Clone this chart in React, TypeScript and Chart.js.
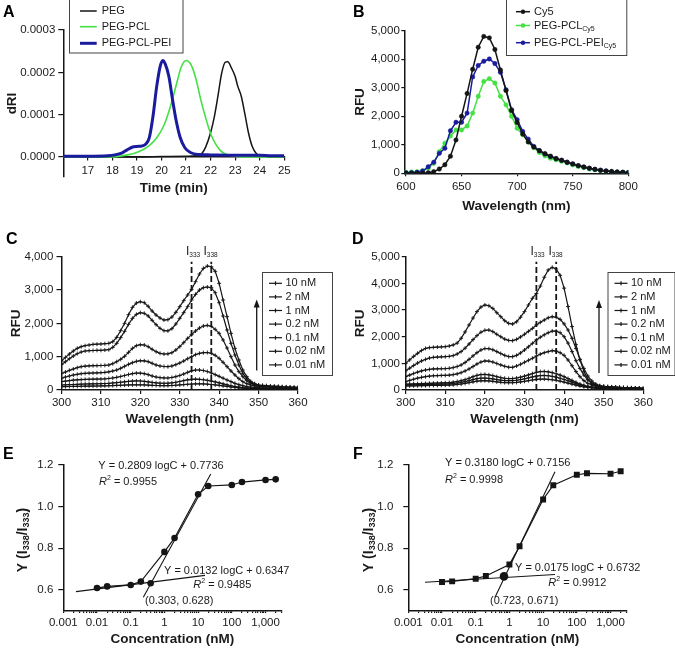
import React, { useEffect, useRef } from 'react';
import { Chart, registerables } from 'chart.js';
Chart.register(...registerables);

const FONT = '"Liberation Sans", Arial, Helvetica, sans-serif';
const INK = '#151515';
const TXT = '#1a1a1a';
const GREEN = '#44e044';
const BLUE = '#1b1b9e';

// ---------- Panel A (GPC traces) ----------
const aLegendLabels = ['PEG', 'PEG-PCL', 'PEG-PCL-PEI'];
const aPegTime = [16, 17, 18, 19, 20, 21, 21.4, 21.6, 21.8, 22.0, 22.15, 22.3, 22.45, 22.6, 22.7, 22.85, 23.0, 23.1, 23.25, 23.4, 23.55, 23.7, 23.85, 24.0, 24.2, 24.5, 25];
const aPegDRI = [0, 0, 0, 0, 0.000001, 0.000002, 0.000003, 0.000006, 0.000024, 0.000058, 0.000095, 0.000145, 0.000198, 0.000224, 0.000225, 0.00021, 0.00019, 0.000168, 0.000143, 0.0001, 0.000055, 0.000024, 0.000009, 0.000004, 0.000002, 0, 0];
const aPclTime = [16, 18, 18.3, 18.6, 18.9, 19.2, 19.5, 19.8, 20.1, 20.35, 20.6, 20.8, 21.0, 21.2, 21.4, 21.6, 21.8, 22.0, 22.2, 22.4, 22.6, 22.9, 23.2, 24, 25];
const aPclDRI = [0, 0, 0.000002, 0.000005, 0.000009, 0.000016, 0.000027, 0.000045, 0.000075, 0.000117, 0.00017, 0.000212, 0.000228, 0.000218, 0.000185, 0.000135, 0.000092, 0.000055, 0.000031, 0.000015, 0.000007, 0.000003, 0.000001, 0, 0];
const aPeiTime = [16, 17, 17.8, 18.1, 18.4, 18.6, 18.8, 19.0, 19.2, 19.35, 19.5, 19.65, 19.8, 19.95, 20.05, 20.15, 20.3, 20.45, 20.6, 20.75, 20.95, 21.2, 21.5, 22, 23, 24, 24.5, 25];
const aPeiDRI = [0.000002, 0.000002, 0.000003, 0.000005, 0.00001, 0.000017, 0.000023, 0.000025, 0.000026, 0.00003, 0.000045, 0.000095, 0.000165, 0.000215, 0.000228, 0.00022, 0.00019, 0.000135, 0.000085, 0.000048, 0.000022, 0.00001, 0.000006, 0.000005, 0.000004, 0.000004, 0.000003, 0.000003];
const aXTicks = [17, 18, 19, 20, 21, 22, 23, 24, 25];
const aYTicks = [0, 0.0001, 0.0002, 0.0003];
const aYTickLabels = ['0.0000', '0.0001', '0.0002', '0.0003'];

// ---------- Panel B (Cy5 emission) ----------
const bWavelength = [600, 605, 610, 615, 620, 625, 630, 635, 640, 645, 650, 655, 660, 665, 670, 675, 680, 685, 690, 695, 700, 705, 710, 715, 720, 725, 730, 735, 740, 745, 750, 755, 760, 765, 770, 775, 780, 785, 790, 795, 800];
const bCy5 = [0, 0, 0, 5, 20, 60, 150, 300, 600, 1170, 2000, 2800, 3650, 4420, 4800, 4750, 4340, 3620, 2900, 2200, 1780, 1380, 1100, 920, 790, 690, 600, 520, 455, 390, 330, 270, 220, 180, 140, 110, 85, 65, 45, 35, 25];
const bPegPcl = [35, 47, 59, 94, 176, 350, 760, 1055, 1310, 1520, 1520, 1660, 2110, 2700, 3220, 3320, 3165, 2700, 2400, 2000, 1580, 1350, 1110, 900, 730, 610, 530, 470, 420, 365, 295, 235, 200, 150, 120, 95, 70, 60, 45, 35, 30];
const bPegPclPei = [20, 25, 35, 80, 230, 390, 700, 880, 1490, 1790, 1790, 2110, 3380, 3780, 3930, 4010, 3850, 3540, 2930, 2230, 1880, 1470, 1200, 940, 800, 680, 590, 515, 460, 390, 330, 270, 220, 175, 140, 105, 80, 60, 45, 35, 25];
const bXTicks = [600, 650, 700, 750, 800];
const bYTicks = [0, 1000, 2000, 3000, 4000, 5000];
const bYTickLabels = ['0', '1,000', '2,000', '3,000', '4,000', '5,000'];

// ---------- Panels C & D (pyrene excitation spectra) ----------
const cdWavelength = [
  300, 301, 302, 303, 304, 305, 306, 307, 308, 309,
  310, 311, 312, 313, 314, 315, 316, 317, 318, 319,
  320, 321, 322, 323, 324, 325, 326, 327, 328, 329,
  330, 331, 332, 333, 334, 335, 336, 337, 338, 339,
  340, 341, 342, 343, 344, 345, 346, 347, 348, 349,
  350, 351, 352, 353, 354, 355, 356, 357, 358, 359, 360,
];
const cdConcLabels = ['10 nM', '2 nM', '1 nM', '0.2 nM', '0.1 nM', '0.02 nM', '0.01 nM'];
const cdXTicks = [300, 310, 320, 330, 340, 350, 360];

const c10nM = [
  870, 980, 1080, 1170, 1250, 1300, 1330, 1350, 1370, 1375,
  1380, 1390, 1400, 1450, 1580, 1780, 2000, 2260, 2480, 2610,
  2650, 2620, 2510, 2370, 2250, 2160, 2100, 2110, 2190, 2330,
  2500, 2680, 2850, 3020, 3250, 3480, 3650, 3720, 3700, 3560,
  3200, 2700, 2200, 1700, 1250, 900, 600, 400, 260, 190,
  150, 140, 130, 120, 115, 110, 100, 95, 90, 85, 80,
];
const c2nM = [
  760, 850, 940, 1020, 1090, 1140, 1170, 1180, 1185, 1190,
  1190, 1200, 1210, 1280, 1400, 1570, 1760, 1970, 2150, 2270,
  2320, 2300, 2220, 2090, 1960, 1850, 1780, 1775, 1840, 1980,
  2150, 2320, 2500, 2700, 2870, 3000, 3070, 3090, 3070, 2920,
  2620, 2220, 1800, 1400, 1050, 750, 500, 340, 230, 170,
  140, 125, 115, 105, 100, 95, 85, 80, 75, 70, 65,
];
const c1nM = [
  490, 540, 590, 630, 670, 700, 715, 725, 730, 732,
  735, 740, 750, 790, 850, 920, 1010, 1130, 1250, 1330,
  1360, 1350, 1300, 1220, 1150, 1100, 1080, 1085, 1120, 1200,
  1300, 1420, 1550, 1660, 1770, 1860, 1920, 1940, 1910, 1820,
  1700, 1500, 1260, 1000, 750, 550, 400, 280, 200, 160,
  130, 115, 105, 95, 90, 85, 75, 70, 65, 60, 55,
];
const c02nM = [
  350, 390, 420, 450, 470, 490, 500, 505, 510, 515,
  520, 530, 545, 570, 600, 650, 710, 770, 820, 860,
  880, 875, 850, 800, 750, 720, 705, 700, 720, 760,
  810, 870, 940, 1000, 1060, 1100, 1120, 1125, 1100, 1040,
  950, 830, 700, 570, 450, 340, 250, 190, 150, 125,
  110, 100, 90, 85, 80, 75, 70, 65, 60, 55, 50,
];
const c01nM = [
  250, 265, 280, 295, 305, 312, 318, 322, 325, 328,
  330, 335, 345, 360, 380, 405, 435, 465, 490, 505,
  505, 490, 460, 420, 390, 370, 362, 360, 375, 400,
  435, 480, 530, 575, 600, 600, 585, 555, 510, 460,
  410, 355, 300, 250, 200, 160, 130, 105, 90, 80,
  70, 65, 60, 55, 50, 48, 45, 42, 40, 38, 35,
];
const c002nM = [
  150, 155, 160, 165, 170, 175, 180, 182, 185, 188,
  190, 195, 200, 210, 220, 232, 245, 258, 268, 272,
  270, 260, 245, 228, 215, 207, 203, 205, 215, 232,
  255, 280, 305, 320, 325, 320, 308, 290, 268, 242,
  215, 185, 155, 128, 105, 88, 75, 65, 58, 52,
  48, 45, 42, 40, 38, 35, 33, 30, 28, 26, 25,
];
const c001nM = [
  100, 102, 105, 108, 110, 112, 115, 117, 118, 120,
  122, 125, 128, 133, 138, 143, 148, 152, 155, 157,
  156, 152, 146, 140, 135, 131, 129, 130, 135, 143,
  152, 162, 172, 180, 184, 185, 182, 175, 165, 152,
  138, 122, 106, 90, 76, 64, 54, 46, 40, 36,
  33, 30, 28, 26, 24, 22, 20, 19, 18, 17, 16,
];
const cYTicks = [0, 1000, 2000, 3000, 4000];
const cYTickLabels = ['0', '1,000', '2,000', '3,000', '4,000'];

const d10nM = [
  1000, 1130, 1260, 1375, 1480, 1560, 1590, 1600, 1610, 1615,
  1625, 1650, 1690, 1760, 1940, 2180, 2440, 2700, 2940, 3110,
  3190, 3160, 3060, 2900, 2750, 2600, 2500, 2475, 2560, 2730,
  2940, 3190, 3440, 3620, 3900, 4230, 4500, 4600, 4540, 4300,
  3820, 3130, 2380, 1700, 1130, 700, 400, 240, 160, 135,
  125, 118, 110, 102, 96, 90, 84, 78, 73, 69, 65,
];
const d2nM = [
  720, 820, 920, 1010, 1090, 1150, 1200, 1225, 1235, 1245,
  1250, 1265, 1290, 1350, 1440, 1570, 1725, 1890, 2040, 2170,
  2240, 2250, 2190, 2090, 2000, 1910, 1860, 1850, 1900, 1990,
  2090, 2200, 2310, 2440, 2540, 2625, 2710, 2750, 2730, 2650,
  2480, 2250, 1940, 1560, 1150, 810, 525, 340, 225, 165,
  140, 125, 115, 105, 98, 92, 86, 80, 75, 70, 65,
];
const d1nM = [
  500, 560, 620, 670, 715, 750, 775, 790, 795, 798,
  800, 815, 840, 880, 940, 1030, 1150, 1280, 1400, 1500,
  1555, 1550, 1510, 1440, 1370, 1300, 1255, 1250, 1300, 1390,
  1500, 1620, 1750, 1880, 1980, 2070, 2150, 2210, 2210, 2150,
  2000, 1760, 1440, 1100, 810, 560, 380, 260, 190, 150,
  125, 112, 102, 95, 88, 82, 76, 70, 65, 60, 55,
];
const d02nM = [
  310, 360, 405, 445, 475, 500, 520, 535, 540, 545,
  550, 560, 575, 605, 650, 715, 790, 880, 975, 1050,
  1090, 1085, 1050, 995, 940, 890, 855, 850, 900, 965,
  1040, 1115, 1190, 1275, 1345, 1400, 1440, 1475, 1460, 1400,
  1300, 1125, 910, 690, 500, 350, 250, 190, 150, 125,
  110, 100, 92, 86, 80, 75, 70, 65, 60, 56, 52,
];
const d01nM = [
  220, 225, 230, 235, 240, 245, 250, 255, 260, 265,
  270, 280, 295, 320, 350, 390, 440, 500, 550, 580,
  585, 570, 540, 500, 465, 440, 430, 430, 450, 480,
  520, 565, 615, 660, 690, 695, 680, 650, 610, 560,
  500, 430, 360, 290, 225, 175, 140, 115, 100, 90,
  82, 76, 72, 68, 64, 60, 57, 54, 51, 48, 45,
];
const d002nM = [
  190, 193, 196, 200, 203, 206, 210, 213, 216, 220,
  225, 232, 245, 262, 285, 315, 350, 390, 425, 445,
  448, 438, 418, 392, 370, 355, 348, 350, 365, 390,
  420, 455, 490, 520, 540, 545, 535, 512, 480, 440,
  395, 345, 295, 240, 190, 150, 120, 100, 86, 76,
  70, 65, 61, 57, 54, 51, 48, 45, 43, 41, 39,
];
const d001nM = [
  150, 153, 156, 159, 162, 165, 168, 171, 174, 177,
  180, 186, 195, 208, 225, 248, 275, 305, 330, 345,
  348, 340, 325, 305, 288, 277, 272, 274, 285, 302,
  325, 350, 375, 395, 408, 410, 402, 385, 360, 330,
  295, 258, 220, 182, 148, 120, 98, 82, 70, 62,
  56, 52, 49, 46, 43, 40, 38, 36, 34, 32, 30,
];
const dYTicks = [0, 1000, 2000, 3000, 4000, 5000];
const dYTickLabels = ['0', '1,000', '2,000', '3,000', '4,000', '5,000'];
const cdMarkers = [333, 338];

// ---------- Panels E & F (I338/I333 vs concentration) ----------
const efConc = [0.01, 0.02, 0.1, 0.2, 1, 2, 10, 20, 100, 200, 1000, 2000];
const eRatio = [0.608, 0.616, 0.623, 0.639, 0.782, 0.849, 1.059, 1.099, 1.104, 1.118, 1.128, 1.131];
const fRatio = [0.637, 0.640, 0.653, 0.666, 0.721, 0.809, 1.034, 1.103, 1.153, 1.160, 1.158, 1.170];
const eSteepX = [0.237, 23.7];
const eSteepY = [0.564, 1.157];
const eFlatX = [0.00238, 16];
const eFlatY = [0.591, 0.669];
const eCross = { x: 0.39, y: 0.631 };
const fSteepX = [0.374, 22.5];
const fSteepY = [0.564, 1.168];
const fFlatX = [0.00312, 22.5];
const fFlatY = [0.636, 0.673];
const fCross = { x: 0.69, y: 0.664 };
const efDecades = [0.001, 0.01, 0.1, 1, 10, 100, 1000];
const efDecadeLabels = ['0.001', '0.01', '0.1', '1', '10', '100', '1,000'];
const efXMax = 3000;
const efYTicks = [0.6, 0.8, 1.0, 1.2];
const efYTickLabels = ['0.6', '0.8', '1.0', '1.2'];

// ---------- helpers ----------
const zip = (xs: number[], ys: number[]) => xs.map((x, i) => ({ x, y: ys[i] }));

type Run = { t: string; size?: number; bold?: boolean; italic?: boolean; dy?: number };
const runFont = (r: Run) => `${r.italic ? 'italic ' : ''}${r.bold ? 'bold ' : ''}${r.size ?? 11}px ${FONT}`;
function runsWidth(ctx: CanvasRenderingContext2D, runs: Run[]) {
  let w = 0;
  for (const r of runs) { ctx.font = runFont(r); w += ctx.measureText(r.t).width; }
  return w;
}
function drawRuns(ctx: CanvasRenderingContext2D, runs: Run[], x: number, y: number, color = TXT) {
  let cx = x;
  ctx.fillStyle = color;
  ctx.textAlign = 'left';
  ctx.textBaseline = 'middle';
  for (const r of runs) {
    ctx.font = runFont(r);
    ctx.fillText(r.t, cx, y + (r.dy ?? 0));
    cx += ctx.measureText(r.t).width;
  }
}
function drawRotated(ctx: CanvasRenderingContext2D, runs: Run[], cx: number, cy: number) {
  const w = runsWidth(ctx, runs);
  ctx.save();
  ctx.translate(cx, cy);
  ctx.rotate(-Math.PI / 2);
  drawRuns(ctx, runs, -w / 2, 0);
  ctx.restore();
}
function letter(ctx: CanvasRenderingContext2D, s: string, x: number, y: number) {
  drawRuns(ctx, [{ t: s, size: 16, bold: true }], x, y, '#000');
}
function box(ctx: CanvasRenderingContext2D, x: number, y: number, w: number, h: number) {
  ctx.fillStyle = '#fff';
  ctx.fillRect(x, y, w, h);
  ctx.strokeStyle = '#444';
  ctx.lineWidth = 1;
  ctx.strokeRect(x + 0.5, y + 0.5, w, h);
}
function hline(ctx: CanvasRenderingContext2D, x0: number, x1: number, y: number, color: string, w: number) {
  ctx.strokeStyle = color;
  ctx.lineWidth = w;
  ctx.beginPath();
  ctx.moveTo(x0, y);
  ctx.lineTo(x1, y);
  ctx.stroke();
}
function arrowUp(ctx: CanvasRenderingContext2D, x: number, yBottom: number, yTip: number) {
  ctx.strokeStyle = INK;
  ctx.fillStyle = INK;
  ctx.lineWidth = 1.3;
  ctx.beginPath();
  ctx.moveTo(x, yBottom);
  ctx.lineTo(x, yTip + 6);
  ctx.stroke();
  ctx.beginPath();
  ctx.moveTo(x, yTip);
  ctx.lineTo(x - 3, yTip + 8);
  ctx.lineTo(x + 3, yTip + 8);
  ctx.closePath();
  ctx.fill();
}
function concLegend(ctx: CanvasRenderingContext2D, x0: number, y0: number, w: number, h: number, firstY: number, step: number) {
  box(ctx, x0, y0, w, h);
  cdConcLabels.forEach((lab, i) => {
    const y = firstY + i * step;
    hline(ctx, x0 + 7, x0 + 20, y, INK, 1.2);
    ctx.beginPath();
    ctx.moveTo(x0 + 13.5, y - 2);
    ctx.lineTo(x0 + 13.5, y + 2);
    ctx.stroke();
    drawRuns(ctx, [{ t: lab, size: 11 }], x0 + 23.5, y);
  });
}
function deco(ox: number, oy: number, draw: (ctx: CanvasRenderingContext2D) => void) {
  return {
    id: 'deco',
    afterDraw(chart: any) {
      const ctx = chart.ctx as CanvasRenderingContext2D;
      ctx.save();
      ctx.translate(-ox, -oy);
      draw(ctx);
      ctx.restore();
    },
  };
}

type AxisOpts = {
  type?: string;
  position: any;
  min: number;
  max: number;
  ticks: () => any[];
  label: (v: number, i: number) => string;
  tl: number;
  pad: number;
  title?: string;
  titlePad?: any;
  fit: (s: any) => void;
};
function mkAxis(o: AxisOpts) {
  return {
    type: o.type ?? 'linear',
    position: o.position,
    min: o.min,
    max: o.max,
    afterBuildTicks: (s: any) => { s.ticks = o.ticks(); },
    afterFit: o.fit,
    grid: { display: true, drawOnChartArea: false, drawTicks: true, tickLength: o.tl, color: INK, lineWidth: 1.2 },
    border: { display: true, color: INK, width: 1.5 },
    ticks: {
      autoSkip: false, maxRotation: 0, minRotation: 0, padding: o.pad, color: TXT,
      font: { family: FONT, size: 11.5 },
      callback: (v: any, i: number) => o.label(v, i),
    },
    title: o.title
      ? { display: true, text: o.title, color: TXT, font: { family: FONT, size: 13.5, weight: 'bold' }, padding: o.titlePad }
      : { display: false },
  };
}
const vals = (arr: number[]) => () => arr.map((v) => ({ value: v }));
const efLogTicks = () => {
  const out: any[] = [];
  for (const d of efDecades) {
    out.push({ value: d });
    for (let k = 2; k <= 9; k++) if (k * d <= efXMax) out.push({ value: k * d });
  }
  return out.sort((a, b) => a.value - b.value);
};
const efLabel = (v: number) => { const i = efDecades.indexOf(v); return i >= 0 ? efDecadeLabels[i] : ''; };

const baseOptions = (padding: any) => ({
  responsive: false,
  animation: false,
  devicePixelRatio: 1,
  events: [],
  layout: { padding },
  plugins: { legend: { display: false }, tooltip: { enabled: false }, title: { display: false } },
});

// ---------- chart configs ----------
function configA() {
  return {
    type: 'line',
    data: {
      datasets: [
        { data: zip(aPeiTime, aPeiDRI), borderColor: BLUE, borderWidth: 3, pointRadius: 0, cubicInterpolationMode: 'monotone' },
        { data: zip(aPclTime, aPclDRI), borderColor: GREEN, borderWidth: 1.6, pointRadius: 0, cubicInterpolationMode: 'monotone' },
        { data: zip(aPegTime, aPegDRI), borderColor: INK, borderWidth: 1.5, pointRadius: 0, cubicInterpolationMode: 'monotone' },
      ],
    },
    options: {
      ...baseOptions({ left: 0, top: 30, right: 52.7, bottom: 23 }),
      scales: {
        x: mkAxis({ position: { y: 0 }, min: 16, max: 25, ticks: vals(aXTicks), label: (v) => String(v), tl: 3, pad: 4, title: 'Time (min)', titlePad: { top: 0, bottom: 1 }, fit: (s) => { s.height = 40; } }),
        y: mkAxis({ position: 'left', min: -0.0000472, max: 0.0003, ticks: vals(aYTicks), label: (_v, i) => aYTickLabels[i], tl: 5, pad: 3, title: 'dRI', titlePad: { top: 4, bottom: 0 }, fit: (s) => { s.width = 63.3; } }),
      },
    },
    plugins: [deco(0, 0, (ctx) => {
      letter(ctx, 'A', 3, 13);
      box(ctx, 69, -1, 113.5, 53.5);
      const cols = [INK, GREEN, BLUE];
      const widths = [1.5, 1.6, 3];
      const ys = [11, 26.7, 43.3];
      aLegendLabels.forEach((lab, i) => {
        hline(ctx, 80, 96.7, ys[i], cols[i], widths[i]);
        drawRuns(ctx, [{ t: lab, size: 11 }], 101.7, ys[i]);
      });
    })],
  };
}

function configB() {
  const ds = (data: number[], color: string) => ({
    data: zip(bWavelength, data), borderColor: color, borderWidth: 1.5, pointRadius: 2.2,
    pointBackgroundColor: color, pointBorderColor: color, pointBorderWidth: 0.5,
  });
  return {
    type: 'line',
    data: { datasets: [ds(bCy5, INK), ds(bPegPclPei, BLUE), ds(bPegPcl, GREEN)] },
    options: {
      ...baseOptions({ left: 0, top: 30.7, right: 46.7, bottom: 0 }),
      scales: {
        x: mkAxis({ position: 'bottom', min: 598.5, max: 800, ticks: vals(bXTicks), label: (v) => String(v), tl: 3, pad: 3.8, title: 'Wavelength (nm)', titlePad: { top: 0, bottom: 1 }, fit: (s) => { s.height = 41.7; } }),
        y: mkAxis({ position: 'left', min: 0, max: 5000, ticks: vals(bYTicks), label: (_v, i) => bYTickLabels[i], tl: 3, pad: 1.5, title: 'RFU', titlePad: { top: 14.9, bottom: 0 }, fit: (s) => { s.width = 67.3; } }),
      },
    },
    plugins: [deco(337, 0, (ctx) => {
      letter(ctx, 'B', 353, 13);
      box(ctx, 506, -1, 120.3, 56);
      const rows: { runs: Run[]; color: string; y: number }[] = [
        { runs: [{ t: 'Cy5' }], color: INK, y: 11.7 },
        { runs: [{ t: 'PEG-PCL' }, { t: 'Cy5', size: 7, dy: 3.5 }], color: GREEN, y: 25.5 },
        { runs: [{ t: 'PEG-PCL-PEI' }, { t: 'Cy5', size: 7, dy: 3.5 }], color: BLUE, y: 42.7 },
      ];
      rows.forEach((r) => {
        hline(ctx, 516, 530, r.y, r.color, 1.5);
        ctx.fillStyle = r.color;
        ctx.beginPath();
        ctx.arc(523, r.y, 2.2, 0, Math.PI * 2);
        ctx.fill();
        drawRuns(ctx, r.runs, 534, r.y);
      });
    })],
  };
}

function spectrumConfig(series: number[][], yMax: number, yTicks: number[], yLabels: string[], dashTop: number,
  ox: number, oy: number, yWidth: number, right: number, yTitlePad: number, yTickPad: number, yTl: number,
  extra: (ctx: CanvasRenderingContext2D) => void) {
  const curves = series.map((arr) => ({
    data: zip(cdWavelength, arr), borderColor: INK, borderWidth: 1.2, pointStyle: 'cross', pointRadius: 2,
    pointBorderColor: INK, pointBorderWidth: 0.9,
  }));
  const dashes = cdMarkers.map((m) => ({
    data: [{ x: m, y: 0 }, { x: m, y: dashTop }], borderColor: INK, borderWidth: 1.8, borderDash: [6, 3], pointRadius: 0,
  }));
  return {
    type: 'line',
    data: { datasets: [...dashes, ...curves] },
    options: {
      ...baseOptions({ left: 0, top: 41.7, right, bottom: 0 }),
      scales: {
        x: mkAxis({ position: 'bottom', min: 300, max: 360, ticks: vals(cdXTicks), label: (v) => String(v), tl: 4, pad: 2.1, title: 'Wavelength (nm)', titlePad: { top: 0, bottom: 2.2 }, fit: (s) => { s.height = 40; } }),
        y: mkAxis({ position: 'left', min: 0, max: yMax, ticks: vals(yTicks), label: (_v, i) => yLabels[i], tl: yTl, pad: yTickPad, title: 'RFU', titlePad: { top: yTitlePad, bottom: 0 }, fit: (s) => { s.width = yWidth; } }),
      },
    },
    plugins: [deco(ox, oy, extra)],
  };
}

function configC() {
  return spectrumConfig([c10nM, c2nM, c1nM, c02nM, c01nM, c002nM, c001nM], 4000, cYTicks, cYTickLabels, 3850,
    0, 215, 61.5, 39, 8.6, 3.2, 5, (ctx) => {
      letter(ctx, 'C', 6, 240);
      drawRuns(ctx, [{ t: 'I', size: 12 }, { t: '333', size: 6.5, dy: 3.5 }], 186, 252);
      drawRuns(ctx, [{ t: 'I', size: 12 }, { t: '338', size: 6.5, dy: 3.5 }], 203.5, 252);
      arrowUp(ctx, 256.7, 370.5, 299.5);
      concLegend(ctx, 262, 272, 70, 103, 283.3, 13.6);
    });
}

function configD() {
  return spectrumConfig([d10nM, d2nM, d1nM, d02nM, d01nM, d002nM, d001nM], 5000, dYTicks, dYTickLabels, 4810,
    337, 215, 68.7, 31.7, 14.9, 1.7, 4, (ctx) => {
      letter(ctx, 'D', 352, 240);
      drawRuns(ctx, [{ t: 'I', size: 12 }, { t: '333', size: 6.5, dy: 3.5 }], 530.5, 252);
      drawRuns(ctx, [{ t: 'I', size: 12 }, { t: '338', size: 6.5, dy: 3.5 }], 548.5, 252);
      arrowUp(ctx, 599, 373, 300);
      concLegend(ctx, 607.5, 272, 67, 103, 283.3, 13.6);
    });
}

function ratioConfig(ratio: number[], steepX: number[], steepY: number[], flatX: number[], flatY: number[],
  cross: { x: number; y: number }, square: boolean, crossR: number,
  ox: number, oy: number, yWidth: number, right: number, yTickPad: number, extra: (ctx: CanvasRenderingContext2D) => void) {
  const style = square ? 'rect' : 'circle';
  return {
    type: 'line',
    data: {
      datasets: [
        { data: zip(efConc, ratio), borderColor: INK, borderWidth: 1.2, pointStyle: style, pointRadius: square ? 4.2 : 3.3, pointBackgroundColor: INK, pointBorderColor: INK, pointBorderWidth: 0 },
        { data: [cross], showLine: false, pointStyle: 'circle', pointRadius: crossR, pointBackgroundColor: INK, pointBorderColor: INK, pointBorderWidth: 0 },
        { data: zip(steepX, steepY), borderColor: INK, borderWidth: 1.1, pointRadius: 0 },
        { data: zip(flatX, flatY), borderColor: INK, borderWidth: 1.1, pointRadius: 0 },
      ],
    },
    options: {
      ...baseOptions({ left: 0, top: 25, right, bottom: 0 }),
      scales: {
        x: mkAxis({ type: 'logarithmic', position: 'bottom', min: 0.001, max: efXMax, ticks: efLogTicks, label: (v) => efLabel(v), tl: 2.5, pad: 3, title: 'Concentration (nM)', titlePad: { top: 0, bottom: 0.2 }, fit: (s) => { s.height = 37.5; } }),
        y: mkAxis({ position: 'left', min: 0.5, max: 1.2, ticks: vals(efYTicks), label: (_v, i) => efYTickLabels[i], tl: 5, pad: yTickPad, fit: (s) => { s.width = yWidth; } }),
      },
    },
    plugins: [deco(ox, oy, extra)],
  };
}

const yRatioTitle: Run[] = [
  { t: 'Y (I', size: 14, bold: true },
  { t: '338', size: 9, bold: true, dy: 4 },
  { t: '/I', size: 14, bold: true },
  { t: '333', size: 9, bold: true, dy: 4 },
  { t: ')', size: 14, bold: true },
];
const r2 = (v: string): Run[] => [{ t: 'R', italic: true }, { t: '2', size: 7, dy: -4 }, { t: ' = ' + v }];

function configE() {
  return ratioConfig(eRatio, eSteepX, eSteepY, eFlatX, eFlatY, eCross, false, 3.3, 0, 440, 63.3, 55.4, 5, (ctx) => {
    letter(ctx, 'E', 3, 455);
    drawRotated(ctx, yRatioTitle, 23, 540);
    drawRuns(ctx, [{ t: 'Y = 0.2809 logC + 0.7736' }], 98.3, 466);
    drawRuns(ctx, r2('0.9955'), 99, 482);
    drawRuns(ctx, [{ t: 'Y = 0.0132 logC + 0.6347' }], 164, 570.7);
    drawRuns(ctx, r2('0.9485'), 193.3, 585);
    drawRuns(ctx, [{ t: '(0.303, 0.628)' }], 145, 600.5);
  });
}

function configF() {
  return ratioConfig(fRatio, fSteepX, fSteepY, fFlatX, fFlatY, fCross, true, 4.3, 337, 440, 71.3, 48.4, 10, (ctx) => {
    letter(ctx, 'F', 353, 455);
    drawRotated(ctx, yRatioTitle, 369, 540);
    drawRuns(ctx, [{ t: 'Y = 0.3180 logC + 0.7156' }], 445, 463.3);
    drawRuns(ctx, r2('0.9998'), 445, 480);
    drawRuns(ctx, [{ t: 'Y = 0.0175 logC + 0.6732' }], 515, 568.3);
    drawRuns(ctx, r2('0.9912'), 548.3, 583.3);
    drawRuns(ctx, [{ t: '(0.723, 0.671)' }], 490, 600.5);
  });
}

function ChartBox({ left, top, width, height, make }: { left: number; top: number; width: number; height: number; make: () => any }) {
  const ref = useRef<HTMLCanvasElement>(null);
  useEffect(() => {
    const chart = new Chart(ref.current as HTMLCanvasElement, make());
    return () => chart.destroy();
  }, []);
  return (
    <canvas
      ref={ref}
      width={width}
      height={height}
      style={{ position: 'absolute', left, top, width, height, display: 'block' }}
    />
  );
}

export default function App() {
  return (
    <div style={{ position: 'absolute', left: 0, top: 0, width: 675, height: 648, background: '#fff', overflow: 'hidden' }}>
      <ChartBox left={0} top={0} width={337} height={200} make={configA} />
      <ChartBox left={337} top={0} width={338} height={215} make={configB} />
      <ChartBox left={0} top={215} width={337} height={215} make={configC} />
      <ChartBox left={337} top={215} width={338} height={215} make={configD} />
      <ChartBox left={0} top={440} width={337} height={208} make={configE} />
      <ChartBox left={337} top={440} width={338} height={208} make={configF} />
    </div>
  );
}
